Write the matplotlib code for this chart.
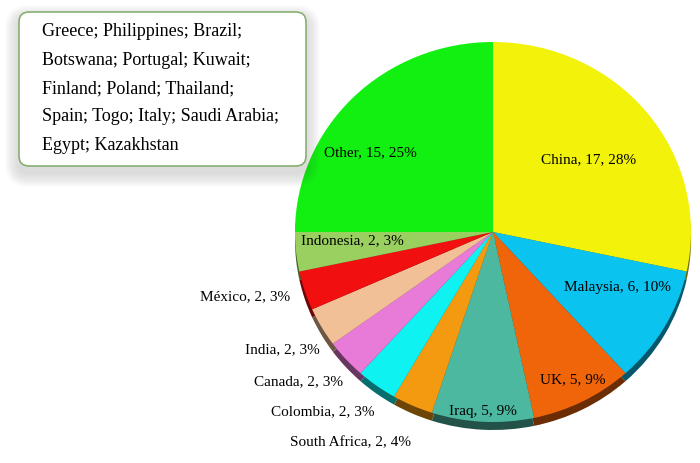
import matplotlib
matplotlib.use("Agg")
import matplotlib.pyplot as plt
from matplotlib.patches import FancyBboxPatch
import matplotlib.colors as mcolors

plt.rcParams['font.family'] = ['Liberation Serif', 'DejaVu Serif']

# Data (clockwise from 12 o'clock)
countries = ["China", "Malaysia", "UK", "Iraq", "South Africa", "Colombia",
             "Canada", "India", "México", "Indonesia", "Other"]
counts = [17, 6, 5, 5, 2, 2, 2, 2, 2, 2, 15]
percent_labels = [28, 10, 9, 9, 4, 3, 3, 3, 3, 3, 25]
colors = ["#F2F20A", "#0BC3EF", "#F0650A", "#4DB8A0", "#F39A10", "#0FF2F2",
          "#E87AD8", "#F2C096", "#F20F0F", "#99D060", "#12F012"]
other_list = ["Greece; Philippines; Brazil;",
              "Botswana; Portugal; Kuwait;",
              "Finland; Poland; Thailand;",
              "Spain; Togo; Italy; Saudi Arabia;",
              "Egypt; Kazakhstan"]

W, H = 700, 463
fig = plt.figure(figsize=(W / 100, H / 100), dpi=100)

# pie axes (elliptical pie)
cx, cy, rx, ry = 493, 232, 198, 190
pax = fig.add_axes([(cx - rx) / W, (H - (cy + ry)) / H, 2 * rx / W, 2 * ry / H])
pax.axis('off')

dark = [tuple(c * 0.45 for c in mcolors.to_rgb(col)) for col in colors]
depth = 8 / ry
wd, _ = pax.pie(counts, colors=dark, startangle=90, counterclock=False,
                radius=1, center=(0, -depth), frame=False)
for w in wd:
    w.set_clip_on(False)
    w.set_zorder(1)
wm, _ = pax.pie(counts, colors=colors, startangle=90, counterclock=False,
                radius=1, center=(0, 0), frame=False)
for w in wm:
    w.set_clip_on(False)
    w.set_zorder(2)
pax.set_xlim(-1, 1)
pax.set_ylim(-1, 1)
pax.set_aspect('auto')

# overlay axes in pixel coords for text
ax = fig.add_axes([0, 0, 1, 1])
ax.set_xlim(0, W)
ax.set_ylim(H, 0)
ax.axis('off')
ax.set_zorder(5)

label_pos = {
    "China": (589, 160), "Other": (370, 153), "Malaysia": (617, 287),
    "UK": (573, 380), "Iraq": (483, 411), "Indonesia": (352, 241),
    "México": (245, 297), "India": (282, 350), "Canada": (298, 382),
    "Colombia": (323, 412), "South Africa": (350, 443),
}
for name, n, p in zip(countries, counts, percent_labels):
    x, y = label_pos[name]
    ax.text(x, y, f"{name}, {n}, {p}%", ha='center', va='center',
            fontsize=11, color='black')

# box with the list of other countries (soft shadow)
bx0, by0, bx1, by1 = 19, 12, 306, 166
for i in range(14):
    pad = 1 + i
    s = FancyBboxPatch((bx0, by0 + 7), (bx1 - bx0), (by1 - by0),
                       boxstyle="round,pad=%g,rounding_size=%g" % (pad, 10 + pad),
                       facecolor='#404040', edgecolor='none', alpha=0.012)
    ax.add_patch(s)
box = FancyBboxPatch((bx0, by0), bx1 - bx0, by1 - by0,
                     boxstyle="round,pad=0,rounding_size=10",
                     facecolor='white', edgecolor='#88B072', linewidth=1.2)
ax.add_patch(box)
for i, line in enumerate(other_list):
    ax.text(42, 32 + i * 28.3, line, ha='left', va='center', fontsize=13, color='black')

fig.savefig("out.png", dpi=100)
